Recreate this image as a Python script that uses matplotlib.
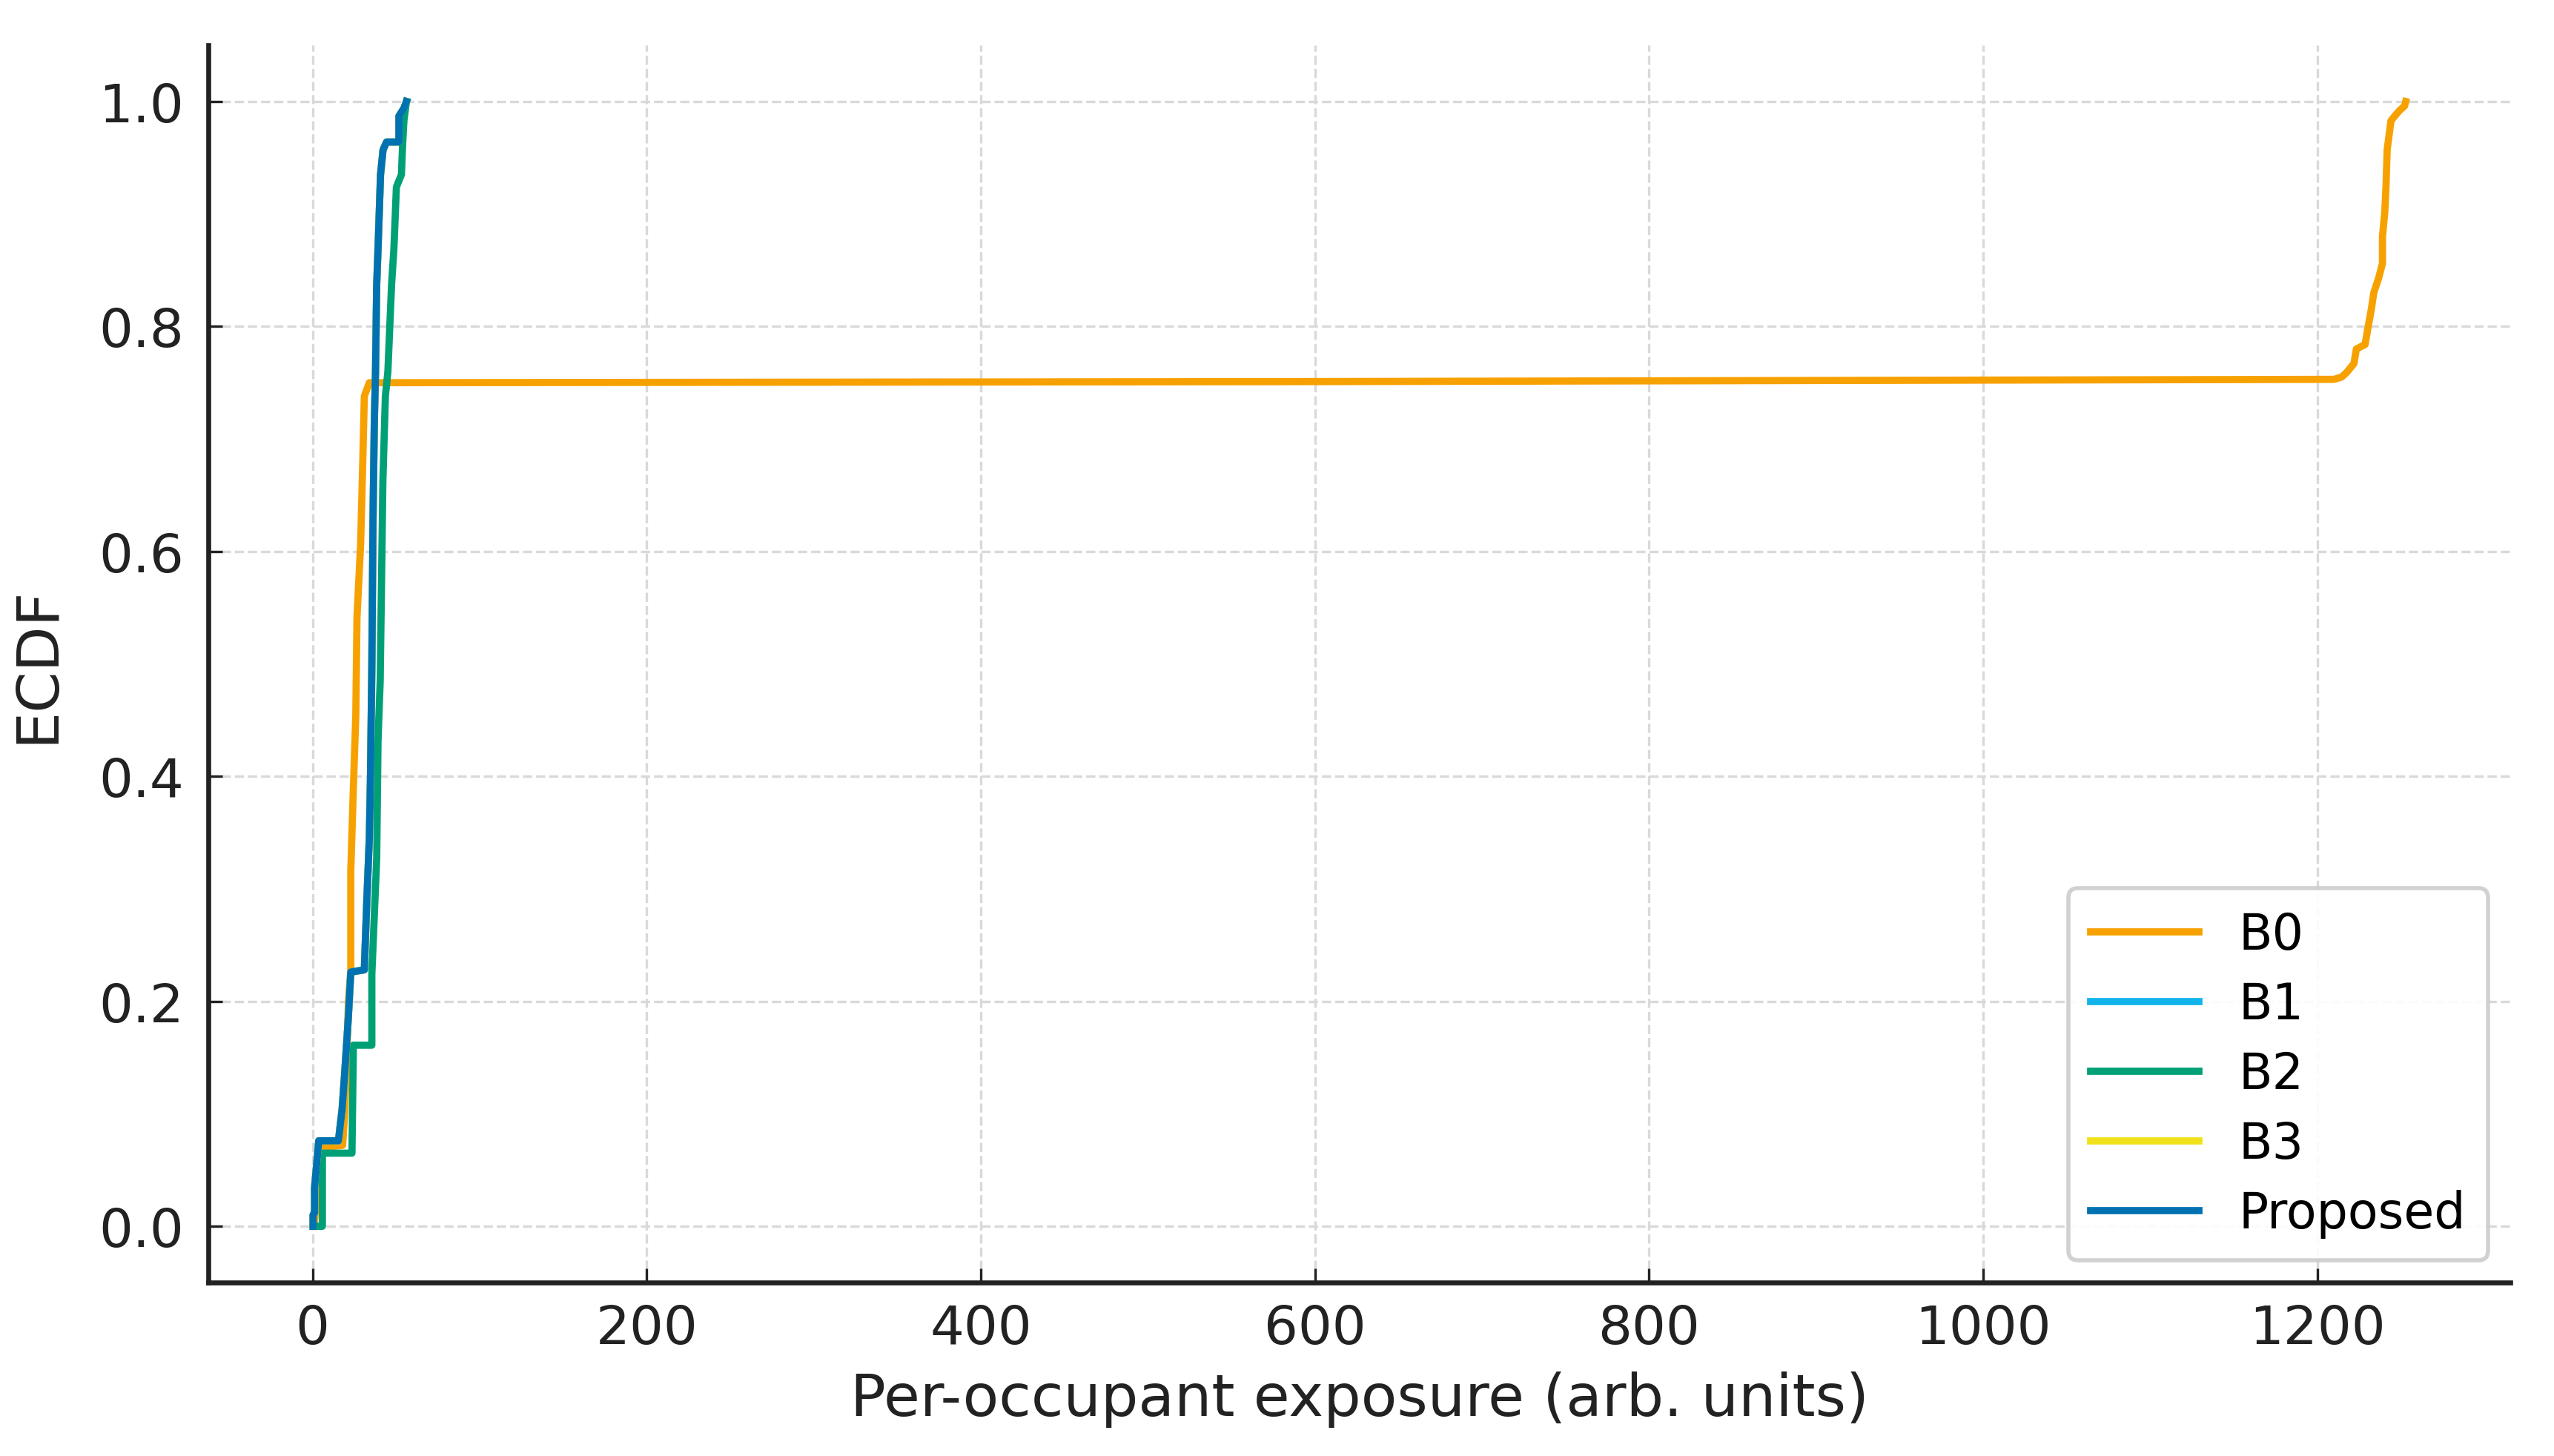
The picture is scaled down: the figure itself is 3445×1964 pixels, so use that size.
import matplotlib
matplotlib.use('Agg')
import matplotlib.pyplot as plt

# ECDF breakpoints (exposure, cumulative fraction)
b0_x = [1, 1.5, 2.5, 4, 18, 19.2, 20.5, 21.5, 22.9, 22.9, 24.4, 25.9, 26.6, 28.8, 30.3,
        31.0, 34.0, 600, 1210, 1214.5, 1217.5, 1221.9, 1223.4, 1228.6, 1230.1, 1232.3,
        1233.8, 1236.7, 1239.0, 1239.0, 1240.4, 1241.1, 1241.8, 1244.1, 1246.3, 1249.2,
        1252.2, 1252.9]
b0_y = [0, 0.01, 0.035, 0.07, 0.072, 0.10, 0.15, 0.20, 0.227, 0.316, 0.388, 0.454, 0.541,
        0.607, 0.694, 0.738, 0.750, 0.751, 0.753, 0.755, 0.759, 0.767, 0.780, 0.784, 0.797,
        0.815, 0.830, 0.843, 0.856, 0.880, 0.902, 0.924, 0.957, 0.983, 0.987, 0.992, 0.996,
        1.0]

proposed_x = [0.3, 0.3, 1.2, 1.2, 3.7, 15.5, 17.7, 19.2, 21.4, 22.9, 31.0, 32.5, 34.0, 34.7,
              35.5, 36.2, 37.0, 37.7, 38.4, 39.2, 40.7, 42.2, 44.3, 51.7, 51.7, 54.7, 56.2]
proposed_y = [0, 0.010, 0.012, 0.034, 0.076, 0.076, 0.104, 0.135, 0.185, 0.226, 0.228, 0.29,
              0.345, 0.40, 0.498, 0.629, 0.716, 0.76, 0.837, 0.869, 0.935, 0.957, 0.964,
              0.964, 0.987, 0.994, 1.0]

# B1 and B3 sit exactly under the Proposed curve in the reference
b1_x = list(proposed_x)
b1_y = list(proposed_y)
b3_x = list(proposed_x)
b3_y = list(proposed_y)

b2_x = [4.5, 5.9, 5.9, 23.6, 24.4, 24.4, 35.5, 35.5, 38.4, 39.2, 40.5, 42.1, 43.6, 45.1,
        47.3, 48.7, 50.2, 53.2, 53.9, 54.7, 56.2]
b2_y = [0, 0.0, 0.065, 0.065, 0.155, 0.161, 0.161, 0.224, 0.327, 0.432, 0.485, 0.662, 0.738,
        0.76, 0.837, 0.869, 0.924, 0.935, 0.961, 0.983, 1.0]

series = [
    ('B0', b0_x, b0_y, '#F7A100'),
    ('B1', b1_x, b1_y, '#12B4EC'),
    ('B2', b2_x, b2_y, '#00A077'),
    ('B3', b3_x, b3_y, '#F0E11A'),
    ('Proposed', proposed_x, proposed_y, '#0072B2'),
]


def main():
    plt.rcParams['font.family'] = 'DejaVu Sans'
    fig = plt.figure(figsize=(3445 / 400, 1965 / 400), dpi=400)
    ax = fig.add_axes([0.0816, 0.1191, 0.9013, 0.8493])

    for name, xs, ys, color in series:
        ax.plot(xs, ys, color=color, lw=1.75, label=name, solid_joinstyle='round')

    ax.set_xticks([0, 200, 400, 600, 800, 1000, 1200])
    ax.set_yticks([0.0, 0.2, 0.4, 0.6, 0.8, 1.0])
    ax.grid(True, linestyle='--', color='#d9d9d9', linewidth=0.6)
    ax.set_axisbelow(True)

    for side in ['top', 'right']:
        ax.spines[side].set_visible(False)
    for side in ['left', 'bottom']:
        ax.spines[side].set_linewidth(1.2)
        ax.spines[side].set_color('#222222')

    ax.tick_params(axis='both', direction='in', length=3.5, width=0.6,
                   labelsize=13, colors='#222222')
    ax.tick_params(axis='y', pad=6)
    ax.tick_params(axis='x', pad=5)

    ax.set_xlabel('Per-occupant exposure (arb. units)', fontsize=14.3, color='#222222', labelpad=4)
    ax.set_ylabel('ECDF', fontsize=14.3, color='#222222', labelpad=8)

    ax.legend(loc='lower right', fontsize=12, labelspacing=0.42, handlelength=2.2,
              handletextpad=0.8, borderpad=0.45, edgecolor='#cccccc', framealpha=0.9,
              borderaxespad=0.45)

    fig.savefig('out.png', dpi=400)


if __name__ == '__main__':
    main()
